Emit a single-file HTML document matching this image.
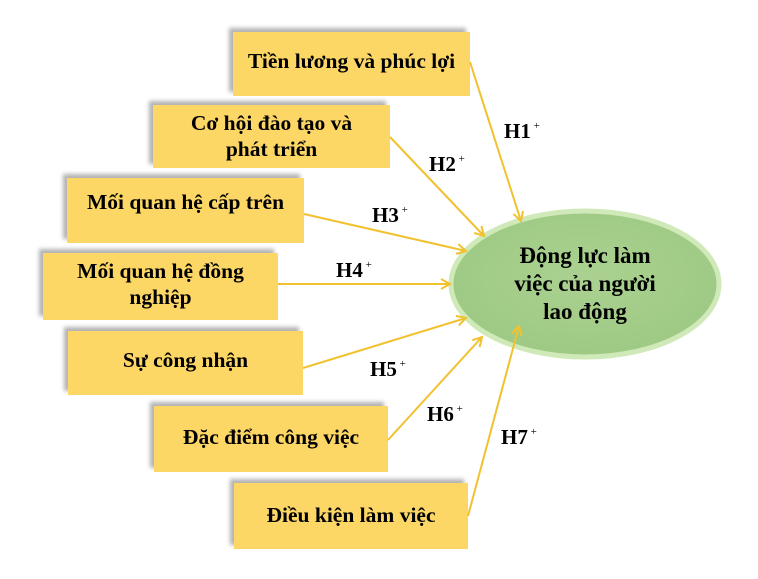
<!DOCTYPE html>
<html><head><meta charset="utf-8"><style>
body{margin:0;width:758px;height:579px;background:#fff;position:relative;overflow:hidden;font-family:"Liberation Serif",serif;}
.b{position:absolute;background:#fdd766;box-shadow:-4px -4px 4px rgba(0,0,0,.3);font-weight:bold;font-size:21.5px;color:#000;text-align:center;line-height:26px;}
.b span{position:absolute;left:0;right:0;}
svg{position:absolute;left:0;top:0;}
.l{font-weight:bold;font-size:21px;}
</style></head><body>
<div class="b" style="left:233px;top:32px;width:237px;height:64px"><span style="top:16px">Tiền lương và phúc lợi</span></div>
<div class="b" style="left:153px;top:105px;width:237px;height:63px"><span style="top:5px">Cơ hội đào tạo và<br>phát triển</span></div>
<div class="b" style="left:67px;top:178px;width:237px;height:65px"><span style="top:11px">Mối quan hệ cấp trên</span></div>
<div class="b" style="left:43px;top:253px;width:235px;height:67px"><span style="top:5px">Mối quan hệ đồng<br>nghiệp</span></div>
<div class="b" style="left:68px;top:331px;width:235px;height:64px"><span style="top:16px">Sự công nhận</span></div>
<div class="b" style="left:154px;top:406px;width:234px;height:66px"><span style="top:18px">Đặc điểm công việc</span></div>
<div class="b" style="left:234px;top:483px;width:234px;height:66px"><span style="top:19px">Điều kiện làm việc</span></div>
<svg width="758" height="579">
<defs>
<radialGradient id="g" cx="50%" cy="45%" r="60%"><stop offset="0" stop-color="#abd190"/><stop offset="1" stop-color="#9cc983"/></radialGradient>
<marker id="a" markerWidth="12" markerHeight="12" refX="10" refY="6" orient="auto" markerUnits="userSpaceOnUse"><path d="M1,1 L10,6 L1,11" fill="none" stroke="#f2c12e" stroke-width="2"/></marker>
</defs>
<ellipse cx="585" cy="284" rx="134" ry="73" fill="url(#g)" stroke="#cfe9b8" stroke-width="5"/>
<g stroke="#f2c12e" stroke-width="2" fill="none" marker-end="url(#a)">
<line x1="470" y1="62" x2="521" y2="221"/>
<line x1="390" y1="137" x2="484" y2="236"/>
<line x1="304" y1="214" x2="466" y2="251"/>
<line x1="278" y1="284" x2="450" y2="284"/>
<line x1="303" y1="368" x2="466" y2="318"/>
<line x1="388" y1="440" x2="482" y2="337"/>
<line x1="468" y1="516" x2="519" y2="326"/>
</g>
<g class="l">
<text x="504" y="138">H1<tspan font-size="11" font-weight="normal" dy="-9"> +</tspan></text>
<text x="429" y="171">H2<tspan font-size="11" font-weight="normal" dy="-9"> +</tspan></text>
<text x="372" y="222">H3<tspan font-size="11" font-weight="normal" dy="-9"> +</tspan></text>
<text x="336" y="277">H4<tspan font-size="11" font-weight="normal" dy="-9"> +</tspan></text>
<text x="370" y="376">H5<tspan font-size="11" font-weight="normal" dy="-9"> +</tspan></text>
<text x="427" y="421">H6<tspan font-size="11" font-weight="normal" dy="-9"> +</tspan></text>
<text x="501" y="444">H7<tspan font-size="11" font-weight="normal" dy="-9"> +</tspan></text>
</g>
<g font-weight="bold" font-size="23" text-anchor="middle">
<text x="585" y="263">Động lực làm</text>
<text x="585" y="291">việc của người</text>
<text x="585" y="319">lao động</text>
</g>
</svg>
</body></html>
